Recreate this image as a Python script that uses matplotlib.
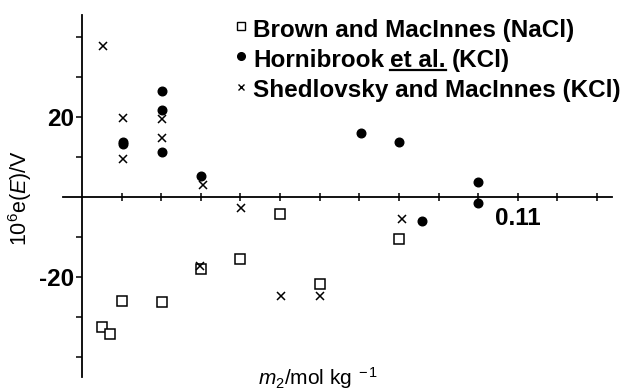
import matplotlib
matplotlib.use("Agg")
import matplotlib.pyplot as plt
from matplotlib import font_manager
from matplotlib.lines import Line2D

# ---------------- data ----------------
brown_x = [0.0051, 0.0071, 0.0101, 0.0202, 0.0300, 0.0400, 0.0500, 0.0600, 0.0800]
brown_y = [-32.5, -34.25, -26.0, -26.25, -18.0, -15.5, -4.25, -21.75, -10.5]

horn_x = [0.0104, 0.0104, 0.0202, 0.0202, 0.0202, 0.0300, 0.0705, 0.0800, 0.0859, 0.1000, 0.1000]
horn_y = [13.75, 13.2, 26.5, 21.75, 11.25, 5.25, 16.0, 13.75, -6.0, 3.75, -1.5]

shed_x = [0.0053, 0.0104, 0.0104, 0.0202, 0.0202, 0.0306, 0.0298, 0.0402, 0.0503, 0.0600, 0.0808]
shed_y = [37.75, 19.75, 9.5, 19.5, 14.75, 3.0, -17.25, -2.75, -24.75, -24.75, -5.5]

x_ticks = [0.01, 0.02, 0.03, 0.04, 0.05, 0.06, 0.07, 0.08, 0.09, 0.10, 0.11, 0.12, 0.13]
x_tick_labels = ["", "", "", "", "", "", "", "", "", "", "0.11", "", ""]
y_major = [-20, 20]
y_major_labels = ["-20", "20"]
y_minor = [-40, -30, -10, 10, 30, 40]

legend_labels = ["Brown and MacInnes (NaCl)", "Hornibrook", "et al.", "(KCl)",
                 "Shedlovsky and MacInnes (KCl)"]

# ---------------- fonts ----------------
names = {f.name for f in font_manager.fontManager.ttflist}
BOLD_FAMILY = "Liberation Sans Narrow" if "Liberation Sans Narrow" in names else "Liberation Sans"
REG_FAMILY = "Liberation Sans"
plt.rcParams["mathtext.fontset"] = "custom"
plt.rcParams["mathtext.rm"] = REG_FAMILY
plt.rcParams["mathtext.it"] = REG_FAMILY + ":italic"
plt.rcParams["mathtext.bf"] = REG_FAMILY + ":bold"

W, H = 622, 392
fig = plt.figure(figsize=(W / 100, H / 100), dpi=100)
ax = fig.add_axes([63 / W, 15 / H, (612 - 63) / W, (377 - 15) / H])

def fx(px):
    return px / W

def fy(py):
    return 1 - py / H

# ---------------- data marks ----------------
ax.plot(brown_x, brown_y, linestyle="none", marker="s", markersize=6.5,
        markerfacecolor="white", markeredgecolor="black", markeredgewidth=1.1, zorder=3)
ax.plot(horn_x, horn_y, linestyle="none", marker="o", markersize=6.2,
        markerfacecolor="black", markeredgecolor="black", zorder=4)
ax.plot(shed_x, shed_y, linestyle="none", marker="x", markersize=5.2,
        markeredgecolor="black", markeredgewidth=1.1, zorder=5)

# ---------------- axes ----------------
ax.set_xlim(-0.0048, 0.1338)
ax.set_ylim(-45, 45.5)
ax.patch.set_visible(False)
for s in ("top", "right"):
    ax.spines[s].set_visible(False)
ax.spines["left"].set_position(("data", 0))
ax.spines["bottom"].set_position(("data", 0))
ax.spines["left"].set_linewidth(1.3)
ax.spines["bottom"].set_linewidth(1.3)

ax.set_xticks(x_ticks)
ax.set_xticklabels(x_tick_labels)
ax.tick_params(axis="x", direction="inout", length=6, width=1.1, pad=4)
ax.set_yticks(y_major)
ax.set_yticklabels(y_major_labels)
ax.set_yticks(y_minor, minor=True)
ax.tick_params(axis="y", which="both", direction="out", length=4, width=1.1, pad=2)
for lab in ax.get_xticklabels() + ax.get_yticklabels():
    lab.set_fontfamily(BOLD_FAMILY)
    lab.set_fontweight("bold")
    lab.set_fontsize(17.5)

# axis labels
fig.text(fx(20), fy(198), r"$\mathrm{10^6e(}\mathit{E}\mathrm{)/V}$", rotation=90,
         ha="center", va="center", fontsize=15.5)
fig.text(fx(318), fy(385), r"$\mathit{m}_2\mathrm{/mol\ kg}^{\ -1}$",
         ha="center", va="baseline", fontsize=15)

# ---------------- legend (manual) ----------------
leg_font = dict(family=BOLD_FAMILY, weight="bold", fontsize=17.5)
tx = 253
fig.add_artist(Line2D([fx(241)], [fy(26)], marker="s", markersize=5.5, markerfacecolor="white",
                      markeredgecolor="black", markeredgewidth=1.0, transform=fig.transFigure))
fig.add_artist(Line2D([fx(241)], [fy(56)], marker="o", markersize=5.5, markerfacecolor="black",
                      markeredgecolor="black", transform=fig.transFigure))
fig.add_artist(Line2D([fx(241)], [fy(87)], marker="x", markersize=5.0, markeredgecolor="black",
                      markeredgewidth=1.0, transform=fig.transFigure))

fig.text(fx(tx), fy(37), legend_labels[0], va="baseline", ha="left", **leg_font)
t1 = fig.text(fx(tx), fy(67), legend_labels[1], va="baseline", ha="left", **leg_font)
fig.text(fx(tx), fy(97), legend_labels[4], va="baseline", ha="left", **leg_font)

fig.canvas.draw()
r = fig.canvas.get_renderer()
b1 = t1.get_window_extent(r)
gap = 6
t2 = fig.text((b1.x1 + gap) / W, fy(67), legend_labels[2], va="baseline", ha="left", **leg_font)
fig.canvas.draw()
b2 = t2.get_window_extent(r)
t3 = fig.text((b2.x1 + gap) / W, fy(67), legend_labels[3], va="baseline", ha="left", **leg_font)
uy = (H - 67 - 3) / H
fig.add_artist(Line2D([b2.x0 / W, b2.x1 / W], [uy, uy], color="black", linewidth=1.6,
                      transform=fig.transFigure))

fig.savefig("out.png", dpi=100)
